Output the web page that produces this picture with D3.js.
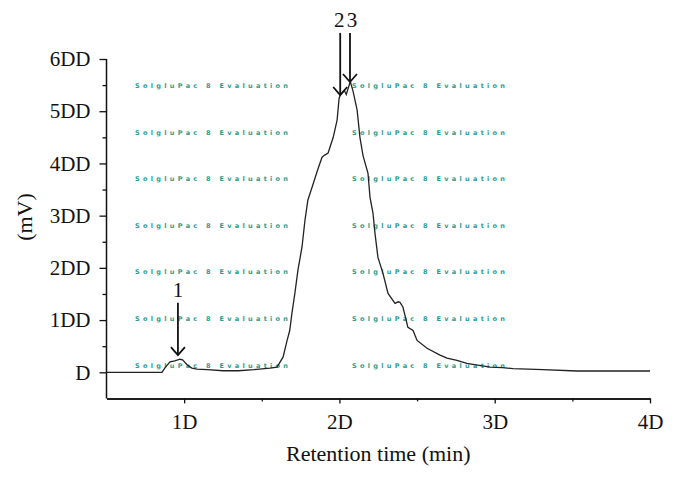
<!DOCTYPE html>
<html>
<head>
<meta charset="utf-8">
<title>Retention time chromatogram</title>
<script src="https://d3js.org/d3.v7.min.js"></script>
<style>
body { margin: 0; background: #fff; }
text { font-family: "Liberation Serif", "Times New Roman", serif; fill: #111; }
.wm { font-family: "DejaVu Sans", sans-serif; font-weight: bold; fill: #2a9d8a; }
</style>
</head>
<body>
<div id="chart"></div>
<script>

// retention time (min) and detector signal (mV)
var times  = [5, 8.57, 8.8, 9.09, 9.4, 9.73, 9.9, 10.2, 10.5, 10.83, 11.5, 12.5, 13.5, 14.5, 15.53, 15.98,
              16.37, 16.63, 16.8, 16.94, 17.13, 17.33, 17.59, 17.78, 17.97, 18.3, 18.6, 18.88, 19.05, 19.27,
              19.6, 19.85, 19.98, 20.05, 20.31, 20.44, 20.7, 20.88, 21.14, 21.32, 21.52, 21.84, 21.97, 22.16,
              22.29, 22.48, 22.8, 23.13, 23.58, 23.78, 23.9, 24.09, 24.41, 24.74, 25.0, 25.64, 26.48, 26.93,
              27.57, 28.21, 28.6, 29.7, 30.5, 31.18, 33.1, 35.3, 40];
var signal = [0, 0, 10, 20, 22, 25, 24, 14, 8, 6, 5, 3, 3, 5, 8, 10,
              29, 61, 80, 113, 151, 196, 240, 291, 330, 360, 388, 412, 416, 420,
              450, 483, 525, 531, 540, 532, 557, 538, 502, 450, 415, 381, 335, 305,
              266, 220, 190, 151, 132, 135, 134, 125, 86, 80, 61, 46, 33, 27,
              23, 17, 15, 10, 9, 7, 5, 2.5, 2.5];

// axis ticks
var xTicks = [10, 20, 30, 40];
var xTickLabels = ["1D", "2D", "3D", "4D"];
var xMinor = [15, 25, 35];
var yTicks = [0, 100, 200, 300, 400, 500, 600];
var yTickLabels = ["D", "1DD", "2DD", "3DD", "4DD", "5DD", "6DD"];
var yMinor = [50, 150, 250, 350, 450, 550];

// peak markers: label, time, tip of arrow, top of arrow (mV)
var peakLabels = ["1", "2", "3"];
var peakTimes = [9.6, 20.05, 20.68];
var peakTips = [33, 531, 556];
var peakTops = [133, 650, 650];

var watermark = "SolgluPac 8 Evaluation";

var W = 676, H = 478;

var svg = d3.select("#chart")
  .append("svg")
    .attr("width", W)
    .attr("height", H);

svg.append("rect").attr("width", W).attr("height", H).attr("fill", "#fff");

var x = d3.scaleLinear().domain([5, 40]).range([106.5, 650]);
var y = d3.scaleLinear().domain([0, 600]).range([372.3, 59]);
var axisY = y(-50);

// watermark rows behind the trace
for (var r = 0; r < 7; r++) {
  [135, 352].forEach(function(wx) {
    svg.append("text")
      .attr("class", "wm")
      .attr("x", wx)
      .attr("y", 88 + r * 46.6)
      .attr("textLength", 153)
      .attr("lengthAdjust", "spacing")
      .style("font-size", "6.5px")
      .text(watermark);
  });
}

// x axis
var gx = svg.append("g").attr("transform", "translate(0," + axisY + ")");
gx.call(d3.axisBottom(x).tickValues(xTicks)
    .tickFormat(function(d, i) { return xTickLabels[i]; })
    .tickSize(5).tickPadding(11).tickSizeOuter(0));
gx.append("g").call(d3.axisBottom(x).tickValues(xMinor).tickFormat("").tickSize(3).tickSizeOuter(0));

// y axis
var gy = svg.append("g").attr("transform", "translate(" + x(5) + ",0)");
gy.call(d3.axisLeft(y).tickValues(yTicks)
    .tickFormat(function(d, i) { return yTickLabels[i]; })
    .tickSize(7).tickPadding(9).tickSizeOuter(0));
gy.append("g").call(d3.axisLeft(y).tickValues(yMinor).tickFormat("").tickSize(4).tickSizeOuter(0));
gy.selectAll(".domain").remove();
gy.append("line")
  .attr("y1", y(600)).attr("y2", axisY)
  .attr("stroke", "#111").attr("stroke-width", 1.5);

svg.selectAll(".domain").attr("stroke", "#111").attr("stroke-width", 1.5);
svg.selectAll(".tick line").attr("stroke", "#111").attr("stroke-width", 1.3);
svg.selectAll(".tick text")
  .style("font-size", "21px")
  .style("font-family", "'Liberation Serif', 'Times New Roman', serif")
  .attr("fill", "#111");

// axis titles
svg.append("text")
  .attr("x", (x(5) + x(40)) / 2)
  .attr("y", 461)
  .attr("text-anchor", "middle")
  .style("font-size", "22px")
  .text("Retention time (min)");

svg.append("text")
  .attr("transform", "translate(32," + 217 + ") rotate(-90)")
  .attr("text-anchor", "middle")
  .style("font-size", "22px")
  .text("(mV)");

// the trace
var data = times.map(function(t, i) { return {t: t, v: signal[i]}; });
svg.append("path")
  .datum(data)
  .attr("fill", "none")
  .attr("stroke", "#222")
  .attr("stroke-width", 1.3)
  .attr("d", d3.line()
    .x(function(d) { return x(d.t); })
    .y(function(d) { return y(d.v); }));

// peak arrows
peakLabels.forEach(function(lab, i) {
  var px = x(peakTimes[i]), tip = y(peakTips[i]), top = y(peakTops[i]);
  svg.append("line")
    .attr("x1", px).attr("x2", px)
    .attr("y1", top).attr("y2", tip)
    .attr("stroke", "#111").attr("stroke-width", 1.8);
  svg.append("path")
    .attr("d", "M" + (px - 7) + "," + (tip - 8) + "L" + px + "," + tip + "L" + (px + 7) + "," + (tip - 8))
    .attr("fill", "none")
    .attr("stroke", "#111").attr("stroke-width", 1.8);
  svg.append("text")
    .attr("x", px + (i == 1 ? -1 : i == 2 ? 2 : 0))
    .attr("y", top - 6)
    .attr("text-anchor", "middle")
    .style("font-size", "21px")
    .text(lab);
});

</script>
</body>
</html>
